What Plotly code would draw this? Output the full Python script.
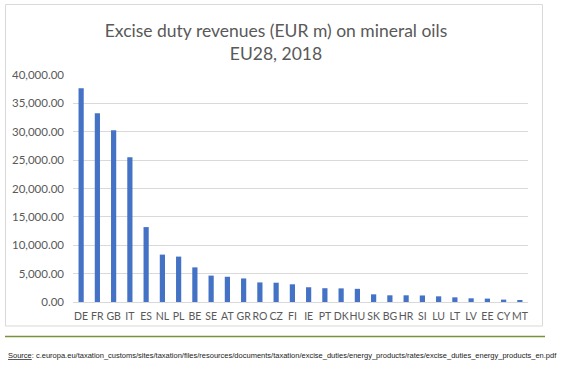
import plotly.graph_objects as go

countries = ["DE", "FR", "GB", "IT", "ES", "NL", "PL", "BE", "SE", "AT", "GR", "RO", "CZ", "FI",
             "IE", "PT", "DK", "HU", "SK", "BG", "HR", "SI", "LU", "LT", "LV", "EE", "CY", "MT"]
revenues = [37650, 33250, 30250, 25500, 13200, 8350, 8000, 6100, 4650, 4450, 4150, 3450, 3400, 3120,
            2600, 2430, 2400, 2320, 1350, 1180, 1180, 1150, 1000, 820, 650, 600, 420, 180]

W, H = 564, 367
L, R, T, B = 73, 528, 75, 302


def px(x):
    return (x - L) / (R - L)


def py(y):
    return (B - y) / (B - T)


fig = go.Figure(go.Bar(x=countries, y=revenues, marker_color="#4472C4", marker_line_width=0))

fig.update_layout(
    width=W, height=H,
    margin=dict(l=L, r=W - R, t=T, b=H - B, pad=0),
    paper_bgcolor="white", plot_bgcolor="white",
    bargap=0.68,
    showlegend=False,
    font=dict(family="Lato, Liberation Sans, sans-serif", color="#595959"),
    title=dict(text="Excise duty revenues (EUR m) on mineral oils<br>EU28, 2018",
               xref="container", yref="container",
               x=276 / W, xanchor="center", y=1 - 37 / H, yanchor="top",
               font=dict(size=17.5, color="#595959")),
)
fig.update_yaxes(range=[0, 40000], dtick=5000, tickformat=",.2f", showgrid=True,
                 gridcolor="#D9D9D9", gridwidth=1, zeroline=False, showline=False,
                 ticks="", tickfont=dict(size=11.5, color="#595959"), ticklabelstandoff=8,
                 fixedrange=True)
fig.update_xaxes(showline=True, linecolor="#D9D9D9", linewidth=1, ticks="",
                 tickfont=dict(size=10.5, color="#595959"), tickangle=0, ticklabelstandoff=4,
                 fixedrange=True)

shapes = [
    dict(type="rect", xref="paper", yref="paper", x0=px(5.5), x1=px(542.5), y0=py(326), y1=py(4.5),
         line=dict(color="#D9D9D9", width=1), fillcolor="rgba(0,0,0,0)", layer="below"),
    dict(type="line", xref="paper", yref="paper", x0=px(5), x1=px(545), y0=py(336.5), y1=py(336.5),
         line=dict(color="#76923C", width=1.5)),
]
fig.update_layout(shapes=shapes)

fig.add_annotation(
    xref="paper", yref="paper", x=px(6), y=py(355), xanchor="left", yanchor="middle",
    showarrow=False,
    text="<u>Source</u>: c.europa.eu/taxation_customs/sites/taxation/files/resources/documents/taxation/excise_duties/energy_products/rates/excise_duties_energy_products_en.pdf",
    font=dict(family="Liberation Sans Narrow, Liberation Sans, sans-serif", size=7.5, color="#222222"),
)

fig.write_html("out.html", config={"displayModeBar": False},
               post_script="document.body.style.margin='0';document.body.style.padding='0';")
